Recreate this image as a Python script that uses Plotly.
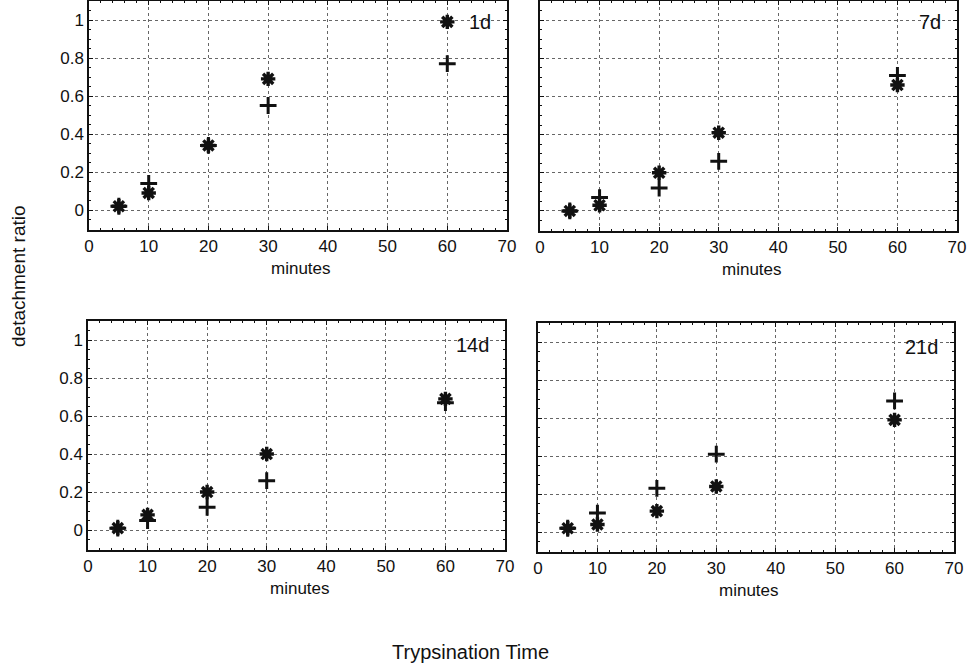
import plotly.graph_objects as go

minutes = [5, 10, 20, 30, 60]
panels = ["1d", "7d", "14d", "21d"]
plus_vals = {
    "1d": [0.02, 0.14, 0.34, 0.55, 0.77],
    "7d": [0.0, 0.07, 0.12, 0.26, 0.71],
    "14d": [0.01, 0.05, 0.12, 0.26, 0.67],
    "21d": [0.02, 0.10, 0.23, 0.41, 0.69],
}
star_vals = {
    "1d": [0.02, 0.09, 0.34, 0.69, 0.99],
    "7d": [0.0, 0.03, 0.20, 0.41, 0.66],
    "14d": [0.01, 0.08, 0.20, 0.40, 0.69],
    "21d": [0.02, 0.04, 0.11, 0.24, 0.59],
}
x_ticks = [0, 10, 20, 30, 40, 50, 60, 70]
y_ticks = [0, 0.2, 0.4, 0.6, 0.8, 1]
y_ticklabels = ["0", "0.2", "0.4", "0.6", "0.8", "1"]

W, H = 969, 669
FONT = "Liberation Sans, Arial, sans-serif"

# pixel boxes (left, right, top, bottom)
boxes = [(89, 507, 1, 230), (540, 957, 1, 231), (88, 505, 321, 550), (538, 954, 323, 552)]

fig = go.Figure()
for i, p in enumerate(panels):
    n = "" if i == 0 else str(i + 1)
    xa, ya = "x" + n, "y" + n
    fig.add_trace(go.Scatter(x=minutes, y=star_vals[p], mode="markers", xaxis=xa, yaxis=ya,
                             marker=dict(symbol="asterisk-open", size=12, color="#111",
                                         line=dict(width=3.4, color="#111")), showlegend=False))
    fig.add_trace(go.Scatter(x=minutes, y=plus_vals[p], mode="markers", xaxis=xa, yaxis=ya,
                             marker=dict(symbol="cross-thin-open", size=12, color="#111",
                                         line=dict(width=3, color="#111")), showlegend=False))
    l, r, t, b = boxes[i]
    left = i % 2 == 0
    axcommon = dict(showline=True, linecolor="#111", linewidth=1.5, mirror="allticks",
                    ticks="inside", tickcolor="#111", automargin=False,
                    showgrid=True, gridcolor="#666", griddash="dot", gridwidth=1,
                    zeroline=False, tickfont=dict(family=FONT, size=17, color="#111"))
    fig.layout["xaxis" + n] = dict(domain=[l / W, r / W], anchor=ya, range=[0, 70],
                                   tickvals=x_ticks, ticklen=4,
                                   minor=dict(dtick=2, ticks="inside", ticklen=2, tickcolor="#111", showgrid=False),
                                   **axcommon)
    fig.layout["yaxis" + n] = dict(domain=[1 - b / H, 1 - t / H], anchor=xa, range=[-0.105, 1.1],
                                   tickvals=y_ticks, ticktext=y_ticklabels, showticklabels=left,
                                   ticklen=4,
                                   minor=dict(dtick=0.05, ticks="inside", ticklen=2, tickcolor="#111", showgrid=False),
                                   **axcommon)
    # panel label
    fig.add_annotation(text=p, xref="paper", yref="paper", x=(r - 14) / W,
                       y=1 - (t + 21 + (3 if i >= 2 else 0)) / H,
                       xanchor="right", yanchor="middle", showarrow=False,
                       font=dict(family=FONT, size=20, color="#111"))
    # minutes label
    fig.add_annotation(text="minutes", xref="paper", yref="paper", x=((l + r) / 2 + 3) / W, y=1 - (b + 38) / H,
                       xanchor="center", yanchor="middle", showarrow=False,
                       font=dict(family=FONT, size=17, color="#111"))

fig.add_annotation(text="detachment ratio", xref="paper", yref="paper", x=18 / W, y=1 - 276 / H,
                   textangle=-90, xanchor="center", yanchor="middle", showarrow=False,
                   font=dict(family=FONT, size=19, color="#111"))
fig.add_annotation(text="Trypsination Time", xref="paper", yref="paper", x=470 / W, y=1 - 652 / H,
                   xanchor="center", yanchor="middle", showarrow=False,
                   font=dict(family=FONT, size=20, color="#111"))

fig.update_layout(width=W, height=H, margin=dict(l=0, r=0, t=0, b=0),
                  paper_bgcolor="white", plot_bgcolor="white",
                  font=dict(family=FONT, color="#111"))
fig.write_html("out.html", config={"displayModeBar": False},
               post_script="document.body.style.margin='0';document.body.style.overflow='hidden';")
